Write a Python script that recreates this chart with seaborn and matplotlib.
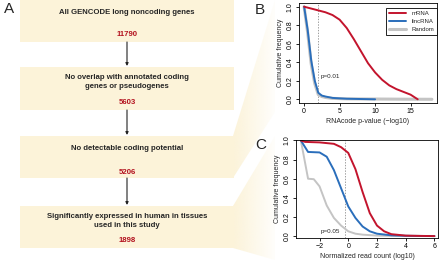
import numpy as np
import pandas as pd
import matplotlib
matplotlib.use("Agg")
import matplotlib.pyplot as plt
from matplotlib.patches import Rectangle, Polygon
import seaborn as sns

# -------------------------------
# Data
# -------------------------------
box_labels = ["All GENCODE long noncoding genes",
              "No overlap with annotated coding\ngenes or pseudogenes",
              "No detectable coding potential",
              "Significantly expressed in human in tissues\nused in this study"]
box_counts = ["11790", "5603", "5206", "1898"]

# panel B: RNAcode p-value (-log10), cumulative frequency
b_mrna_x = [0, 1, 2, 3, 4, 5, 6, 7, 8, 9, 10, 11, 12, 13, 14, 15, 16]
b_mrna_y = [1.0, 0.98, 0.96, 0.94, 0.91, 0.86, 0.77, 0.65, 0.52, 0.39, 0.29,
            0.21, 0.15, 0.11, 0.08, 0.05, 0.0]
b_linc_x = [0, 0.5, 1, 1.5, 2, 2.5, 3, 4, 5, 6, 8, 10]
b_linc_y = [1.0, 0.75, 0.42, 0.20, 0.07, 0.04, 0.03, 0.015, 0.01, 0.006, 0.003, 0.0]
b_rand_x = [0, 0.5, 1, 1.5, 2, 2.5, 3, 4, 6, 10, 14, 18]
b_rand_y = [1.0, 0.72, 0.38, 0.17, 0.05, 0.03, 0.02, 0.01, 0.005, 0.003, 0.001, 0.0]
b_cut = 2.0

# panel C: normalized read count (log10), cumulative frequency
c_mrna_x = [-3.3, -3, -2, -1, -0.5, 0, 0.5, 1, 1.5, 2, 2.5, 3, 4, 5, 6]
c_mrna_y = [1.0, 0.985, 0.98, 0.965, 0.93, 0.87, 0.70, 0.46, 0.24, 0.11, 0.05,
            0.02, 0.005, 0.002, 0.0]
c_linc_x = [-3.3, -2.8, -2, -1.5, -1, -0.5, 0, 0.5, 1, 1.5, 2, 3, 4, 6]
c_linc_y = [1.0, 0.88, 0.875, 0.83, 0.69, 0.50, 0.31, 0.19, 0.10, 0.05, 0.025,
            0.008, 0.003, 0.0]
c_rand_x = [-3.3, -2.8, -2.4, -2, -1.5, -1, -0.5, 0, 0.5, 1, 2, 3, 6]
c_rand_y = [1.0, 0.60, 0.595, 0.52, 0.32, 0.19, 0.11, 0.05, 0.025, 0.015, 0.005,
            0.002, 0.0]
c_cut = -0.26

RED = "#c3142d"
BLUE = "#2a6ebb"
GREY = "#c4c4c4"
YELLOW = "#fcf3d9"
NUMRED = "#b3121f"

# -------------------------------
# Style
# -------------------------------
sns.set_style("ticks")
plt.rcParams["font.family"] = ["Liberation Sans", "DejaVu Sans"]
plt.rcParams["axes.linewidth"] = 0.6

fig = plt.figure(figsize=(4.4, 2.6), dpi=100)

# -------------------------------
# Panel A: flowchart (pixel coords)
# -------------------------------
bg = fig.add_axes([0, 0, 1, 1])
bg.set_xlim(0, 440)
bg.set_ylim(260, 0)
bg.axis("off")

def fan(ax, pts):
    poly = Polygon(pts, closed=True, facecolor="none", edgecolor="none")
    ax.add_patch(poly)
    xs = [p[0] for p in pts]
    ys = [p[1] for p in pts]
    rgba = np.zeros((2, 200, 4))
    rgba[..., :3] = matplotlib.colors.to_rgb(YELLOW)
    rgba[..., 3] = np.linspace(1.0, 0.1, 200)
    im = ax.imshow(rgba, extent=(min(xs), max(xs), max(ys), min(ys)),
                   aspect="auto", zorder=0, interpolation="bilinear")
    im.set_clip_path(poly)

fan(bg, [(233, 136), (275, 0), (275, 112), (233, 178)])
fan(bg, [(233, 206), (275, 136), (275, 260), (233, 248)])

box_top = [0, 67, 136, 206]
box_bot = [42, 110, 178, 248]
text_y = [13, 82, 149, 221]
num_y = [34, 102, 172, 241]
bx0, bx1 = 20, 234
cx = (bx0 + bx1) / 2

for i in range(len(box_labels)):
    bg.add_patch(Rectangle((bx0, box_top[i]), bx1 - bx0, box_bot[i] - box_top[i],
                           facecolor=YELLOW, edgecolor="none", zorder=1))
    bg.text(cx, text_y[i], box_labels[i], ha="center", va="center",
            fontsize=5.6, fontweight="bold", linespacing=1.3, zorder=2)
    bg.text(cx, num_y[i], box_counts[i], ha="center", va="center",
            fontsize=5.6, fontweight="bold", color=NUMRED, zorder=2)
    if i < len(box_labels) - 1:
        bg.annotate("", xy=(127, box_top[i + 1] - 1), xytext=(127, box_bot[i]),
                    arrowprops=dict(arrowstyle="-|>", color="#222222", lw=0.8,
                                    mutation_scale=4, shrinkA=0, shrinkB=0))

bg.text(4, 9, "A", fontsize=11, ha="left", va="center")
bg.text(255, 10, "B", fontsize=11, ha="left", va="center")
bg.text(255, 145, "C", fontsize=11, ha="left", va="center")

# -------------------------------
# Panels B and C
# -------------------------------
def style_axes(ax):
    for s in ax.spines.values():
        s.set_visible(True)
        s.set_color("black")
        s.set_linewidth(0.6)
    ax.set_facecolor("none")
    ax.tick_params(length=2.2, width=0.6, pad=1.5, labelsize=5, colors="black")
    ax.set_yticks([0, 0.2, 0.4, 0.6, 0.8, 1.0])
    ax.set_yticklabels(["0.0", "0.2", "0.4", "0.6", "0.8", "1.0"],
                       rotation=90, va="center")
    ax.set_ylabel("Cumulative frequency", fontsize=5, labelpad=2)

axB = fig.add_axes([299 / 440, 1 - 103 / 260, 138 / 440, 100 / 260])
sns.lineplot(x=b_rand_x, y=b_rand_y, ax=axB, color=GREY, lw=2.2, label="Random")
sns.lineplot(x=b_linc_x, y=b_linc_y, ax=axB, color=BLUE, lw=1.4, label="lincRNA")
sns.lineplot(x=b_mrna_x, y=b_mrna_y, ax=axB, color=RED, lw=1.4, label="mRNA")
axB.axvline(b_cut, color="#777777", lw=0.5, ls=(0, (2, 2)), zorder=0)
axB.text(b_cut + 0.3, 0.25, "p=0.01", fontsize=4.5, ha="left", va="center")
axB.set_xlim(-0.72, 18.72)
axB.set_ylim(-0.04, 1.04)
axB.set_xticks([0, 5, 10, 15])
style_axes(axB)
axB.set_xlabel("RNAcode p-value (\u2212log10)", fontsize=5, labelpad=2)
h, l = axB.get_legend_handles_labels()
leg = axB.legend(h[::-1], l[::-1], loc="upper right", bbox_to_anchor=(1.0, 0.95),
                 fontsize=4.3, frameon=True, fancybox=False, framealpha=1,
                 edgecolor="black", handlelength=3.0, handletextpad=0.8,
                 labelspacing=0.45, borderpad=0.5, borderaxespad=0)
leg.get_frame().set_linewidth(0.6)

axC = fig.add_axes([296 / 440, 1 - 238 / 260, 142 / 440, 98 / 260])
sns.lineplot(x=c_rand_x, y=c_rand_y, ax=axC, color=GREY, lw=1.4, sort=False)
sns.lineplot(x=c_linc_x, y=c_linc_y, ax=axC, color=BLUE, lw=1.4, sort=False)
sns.lineplot(x=c_mrna_x, y=c_mrna_y, ax=axC, color=RED, lw=1.4, sort=False)
axC.axvline(c_cut, color="#777777", lw=0.5, ls=(0, (2, 2)), zorder=0)
axC.text(c_cut - 0.3, 0.045, "p=0.05", fontsize=4.5, ha="right", va="center")
axC.set_xlim(-3.64, 6.25)
axC.set_ylim(-0.02, 1.005)
axC.set_xticks([-2, 0, 2, 4, 6])
style_axes(axC)
axC.set_xlabel("Normalized read count (log10)", fontsize=5, labelpad=2)

fig.savefig("out.png", dpi=100)
